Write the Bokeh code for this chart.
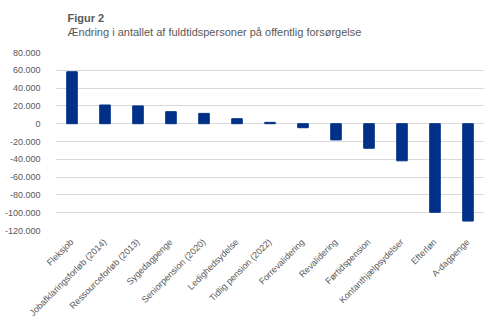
from bokeh.plotting import figure
from bokeh.models import Label, FixedTicker, Range1d
from bokeh.layouts import column
from bokeh.embed import file_html
from bokeh.resources import INLINE
from math import pi

categories = ["Fleksjob", "Jobafklaringsforløb (2014)", "Ressourceforløb (2013)",
              "Sygedagpenge", "Seniorpension (2020)", "Ledighedsydelse",
              "Tidlig pension (2022)", "Forrevalidering", "Revalidering",
              "Førtidspension", "Kontanthjælpsydelser", "Efterløn", "A-dagpenge"]
values = [58400, 21000, 20000, 13500, 11600, 5600, 1500,
          -4500, -18200, -27600, -41700, -99500, -109400]
y_ticks = [80000, 60000, 40000, 20000, 0, -20000, -40000, -60000,
           -80000, -100000, -120000]
title_text = "Figur 2"
subtitle_text = "Ændring i antallet af fuldtidspersoner på offentlig forsørgelse"

FONT = "Liberation Sans"
GREY = "#595959"
HEAD_H = 46

def fmt(v):
    s = f"{abs(v):,}".replace(",", ".")
    return ("-" if v < 0 else "") + s

# heading strip (title + subtitle)
head = figure(width=500, height=HEAD_H, output_backend="svg", toolbar_location=None,
              x_range=Range1d(0, 500), y_range=Range1d(HEAD_H, 0),
              min_border_left=0, min_border_right=0, min_border_top=0,
              min_border_bottom=0)
head.axis.visible = False
head.grid.visible = False
head.outline_line_color = None
head.add_layout(Label(x=14, y=17, text=title_text, text_font=FONT,
                      text_font_size="11px", text_font_style="bold",
                      text_color=GREY, text_baseline="middle", text_align="left"))
head.add_layout(Label(x=14, y=31, text=subtitle_text, text_font=FONT,
                      text_font_size="11px", text_color=GREY,
                      text_baseline="middle", text_align="left"))

p = figure(x_range=categories, y_range=(-120000, 80000), width=500,
           height=330 - HEAD_H, output_backend="svg", toolbar_location=None,
           min_border_left=55, min_border_right=16, min_border_top=52 - HEAD_H,
           min_border_bottom=100)
p.outline_line_color = None
p.background_fill_color = "white"

p.vbar(x=categories, top=values, width=0.32, color="#003087")

p.yaxis.ticker = FixedTicker(ticks=y_ticks)
p.yaxis.major_label_overrides = {v: fmt(v) for v in y_ticks}
p.yaxis.axis_line_color = None
p.yaxis.major_tick_line_color = None
p.yaxis.minor_tick_line_color = None
p.yaxis.major_label_standoff = 9
p.yaxis.major_label_text_font = FONT
p.yaxis.major_label_text_font_size = "9px"
p.yaxis.major_label_text_color = GREY

p.xaxis.axis_line_color = None
p.xaxis.major_tick_line_color = None
p.xaxis.major_label_orientation = pi / 4
p.xaxis.major_label_standoff = 4
p.xaxis.major_label_text_font = FONT
p.xaxis.major_label_text_font_size = "9px"
p.xaxis.major_label_text_color = GREY

p.xgrid.grid_line_color = None
p.ygrid.grid_line_color = "#d9d9d9"
p.ygrid.grid_line_width = 1
p.ygrid.ticker = FixedTicker(ticks=y_ticks)

layout = column(head, p, spacing=0)
open("out.html", "w").write(file_html(layout, INLINE))
